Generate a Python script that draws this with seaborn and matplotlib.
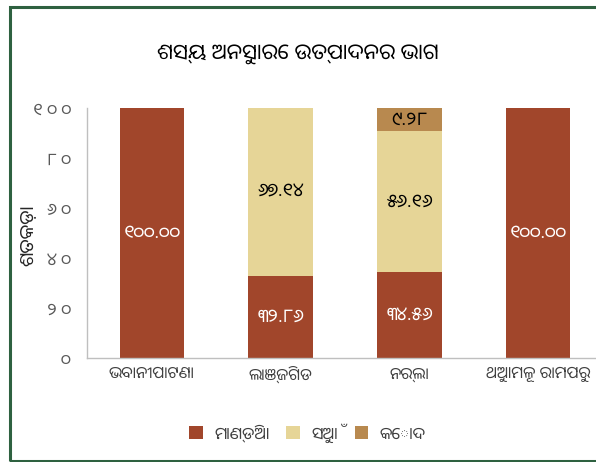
import matplotlib
matplotlib.use("Agg")
import matplotlib.pyplot as plt
from matplotlib.patches import Rectangle, Patch
import seaborn as sns
import pandas as pd

# data
blocks = ["ଭବାନୀପାଟଣା", "ଲାଞ୍ଜିଗଡ", "ନର୍ଲା", "ଥୁଆମୂଳ ରାମପୁର"]
crops = ["ମାଣ୍ଡିଆ", "ସୁଆଁ", "କୋଦ"]
mandia = [100.00, 32.86, 34.56, 100.00]
suan = [0.0, 67.14, 56.16, 0.0]
koda = [0.0, 0.0, 9.28, 0.0]
yticks = [0, 20, 40, 60, 80, 100]

ODIA_DIGITS = "୦୧୨୩୪୫୬୭୮୯"


def odia_num(s, sep=""):
    return sep.join(ODIA_DIGITS[int(c)] if c.isdigit() else c for c in s)


sns.set_theme(style="white")
plt.rcParams["font.family"] = ["Noto Sans Oriya", "DejaVu Sans"]

df = pd.DataFrame({"block": blocks, "mandia": mandia, "suan": suan, "koda": koda})
df["ms"] = df["mandia"] + df["suan"]
df["all"] = df["ms"] + df["koda"]

fig = plt.figure(figsize=(5.96, 4.62), dpi=100)
ax = fig.add_axes([0.1468, 0.2251, 0.8642, 0.5411])

colors = ["#A1462B", "#E6D597", "#B8894F"]
sns.barplot(data=df, x="block", y="all", color=colors[2], width=0.5, ax=ax,
            saturation=1, linewidth=0)
sns.barplot(data=df, x="block", y="ms", color=colors[1], width=0.5, ax=ax,
            saturation=1, linewidth=0)
sns.barplot(data=df, x="block", y="mandia", color=colors[0], width=0.5, ax=ax,
            saturation=1, linewidth=0)

# value labels
for i in range(len(blocks)):
    base = 0
    for vals, col in [(mandia, "white"), (suan, "black"), (koda, "black")]:
        v = vals[i]
        if v > 0:
            ax.text(i, base + v / 2, odia_num(f"{v:.2f}"), ha="center", va="center",
                    color=col, fontsize=13.5)
        base += v

ax.set_xlim(-0.5, 3.5)
ax.set_ylim(0, 100)
ax.set_yticks(yticks)
ax.set_yticklabels([odia_num(str(t), " ") for t in yticks], color="#595959", fontsize=12.5)
ax.tick_params(axis="x", labelsize=11.5, labelcolor="#404040", pad=6, length=0)
ax.tick_params(axis="y", pad=12, length=0)
ax.set_xlabel("")
ax.set_ylabel("ଶତକ\u0B5Cା", fontsize=14, color="#262626", fontweight="bold")
ax.yaxis.set_label_coords(-0.098, 0.49)
for s in ["top", "right"]:
    ax.spines[s].set_visible(False)
for s in ["left", "bottom"]:
    ax.spines[s].set_color("#BFBFBF")
    ax.spines[s].set_linewidth(1.0)

fig.text(0.5, 0.885, "ଶସ୍ୟ ଅନୁସାରେ ଉତ୍ପାଦନର ଭାଗ", ha="center", va="center",
         fontsize=15.5, color="black", fontweight="medium")

handles = [Patch(facecolor=c, edgecolor="none") for c in colors]
fig.legend(handles, crops, loc="center", bbox_to_anchor=(0.516, 0.063), ncol=3,
           frameon=False, fontsize=12, handlelength=0.8, handleheight=0.8,
           columnspacing=1.0, handletextpad=0.7, labelcolor="#404040")

# chart frame
fig.patches.append(Rectangle((10 / 596, 1.5 / 462), 1.2, 1 - 8.5 / 462,
                             transform=fig.transFigure, fill=False,
                             edgecolor="#2E6140", linewidth=2.2))

fig.savefig("out.png", dpi=100)
